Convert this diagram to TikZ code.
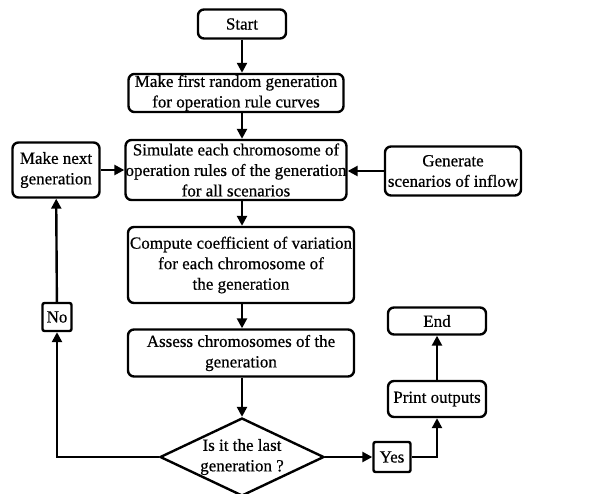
\documentclass[tikz,border=0pt]{standalone}
\usepackage{fontspec}
\setmainfont{Liberation Serif}[FakeBold=0.6]
\usetikzlibrary{arrows.meta,positioning,shapes.geometric}

\tikzset{
  stepbox/.style={draw, line width=2.4pt, rounded corners=6pt, align=center,
                  inner sep=1pt},
  tagbox/.style={draw, line width=2.4pt, rounded corners=2pt, inner sep=2pt},
  flow/.style={-{Triangle[length=10pt,width=10pt]}, line width=2.4pt}
}

\begin{document}
\begin{tikzpicture}[x=1pt, y=-1pt, font=\fontsize{17}{20.5}\selectfont]
    \useasboundingbox (0,0) rectangle (596,493);

    % main column
    \node[stepbox, minimum width=88pt, minimum height=29pt] (start) at (242,24) {Start};
    \node[stepbox, minimum width=215pt, minimum height=37pt] (first) at (236,93)
          {Make first random generation\\for operation rule curves};
    \node[stepbox, minimum width=215pt, minimum height=60pt, inner sep=0pt] (sim) at (236,170)
          {Simulate each chromosome of\\operation rules of the generation\\for all scenarios};
    \node[stepbox, minimum width=226pt, minimum height=76pt] (cov) at (241,265)
          {Compute coefficient of variation\\for each chromosome of\\the generation};
    \node[stepbox, minimum width=226pt, minimum height=47pt] (assess) at (241,353)
          {Assess chromosomes of the\\generation};
    \node[draw, line width=2.4pt, shape=diamond, aspect=2.1, inner sep=0pt,
          minimum width=164pt, minimum height=78pt, align=center] (last) at (242,457)
          {Is it the last\\generation ?};

    % side boxes
    \node[stepbox, minimum width=87pt, minimum height=55pt] (next) at (56,170)
          {Make next\\generation};
    \node[stepbox, minimum width=136pt, minimum height=49pt, inner sep=0pt] (inflow) at (453,171)
          {Generate\\scenarios of inflow};
    \node[tagbox, minimum width=29pt, minimum height=28pt] (no) at (57,317) {No};
    \node[tagbox, minimum width=37pt, minimum height=30pt] (yes) at (392,457) {Yes};
    \node[stepbox, minimum width=98pt, minimum height=36pt] (print) at (437,399) {Print outputs};
    \node[stepbox, minimum width=98pt, minimum height=27pt] (end) at (437,321) {End};

    % connectors
    \draw[flow] (start) -- (start |- first.north);
    \draw[flow] (first.south -| start) -- (sim.north -| start);
    \draw[flow] (sim.south -| start) -- (cov.north -| start);
    \draw[flow] (cov.south -| start) -- (assess.north -| start);
    \draw[flow] (assess.south -| start) -- (last.north);
    \draw[flow] (last.west) -| (no.south);
    \draw[flow] (no) -- (next);
    \draw[flow] (next) -- (sim);
    \draw[flow] (inflow.west) -- (inflow.west -| sim.east);
    \draw[flow] (last.east) -- (yes);
    \draw[flow] (yes.east) -| (print.south);
    \draw[flow] (print) -- (end);
\end{tikzpicture}
\end{document}
